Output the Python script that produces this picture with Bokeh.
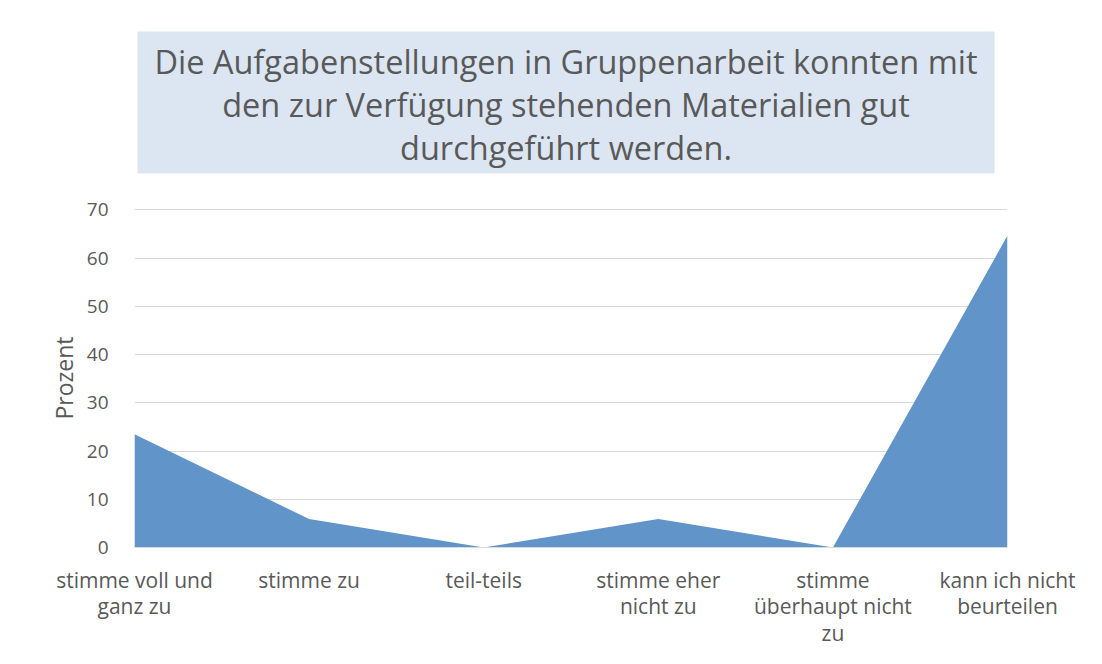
from bokeh.plotting import figure
from bokeh.models import Range1d, FixedTicker, Label, BoxAnnotation
from bokeh.layouts import column
from bokeh.embed import file_html
from bokeh.resources import INLINE

categories = ["stimme voll und\nganz zu", "stimme zu", "teil-teils",
              "stimme eher\nnicht zu", "stimme\nüberhaupt nicht\nzu",
              "kann ich nicht\nbeurteilen"]
values = [23.5, 5.9, 0.0, 5.9, 0.0, 64.7]
y_ticks = [0, 10, 20, 30, 40, 50, 60, 70]
title_text = ("Die Aufgabenstellungen in Gruppenarbeit konnten mit\n"
              "den zur Verfügung stehenden Materialien gut\n"
              "durchgeführt werden.")
y_label = "Prozent"

FONT = "Open Sans"
TXT = "#595959"
W = 1102
TH = 190          # height of the title strip
MH = 664 - TH     # height of the chart
FL, FR = 134, 1007  # frame edges in page pixels (shared by both figures)

# ---------------- title strip ----------------
t = figure(width=W, height=TH, output_backend="svg", toolbar_location=None,
           x_range=Range1d(FL, FR), y_range=Range1d(0, TH),
           x_axis_type=None, y_axis_type=None,
           min_border_left=FL, min_border_right=W - FR,
           min_border_top=0, min_border_bottom=0)
t.outline_line_color = None
t.grid.visible = False
t.border_fill_color = "white"
t.add_layout(BoxAnnotation(left=137, right=994, bottom=TH - 173, top=TH - 31,
                           fill_color="#dce6f2", fill_alpha=1.0,
                           line_color=None))
t.add_layout(Label(x=(137 + 994) / 2, y=TH - 104, text=title_text,
                   text_align="center", text_baseline="middle",
                   text_font=FONT, text_font_size="32.5px", text_color=TXT,
                   text_line_height=0.955))

# ---------------- main chart ----------------
xs = list(range(len(categories)))

p = figure(width=W, height=MH, output_backend="svg", toolbar_location=None,
           x_range=Range1d(0, len(categories) - 1), y_range=Range1d(0, 70.3),
           min_border_left=FL, min_border_right=W - FR,
           min_border_top=208 - TH, min_border_bottom=117)
p.outline_line_color = None
p.background_fill_color = "white"
p.border_fill_color = "white"

p.varea(x=xs, y1=[0] * len(xs), y2=values, fill_color="#6194c8")

p.xaxis.ticker = FixedTicker(ticks=xs)
p.xaxis.major_label_overrides = {i: c for i, c in enumerate(categories)}
p.xaxis.axis_line_color = "#d9d9d9"
p.xaxis.major_tick_line_color = None
p.xaxis.minor_tick_line_color = None
p.xaxis.major_label_text_font = FONT
p.xaxis.major_label_text_font_size = "21px"
p.xaxis.major_label_text_color = TXT
p.xaxis.major_label_standoff = 12
p.xaxis.major_label_text_line_height = 0.95
p.xgrid.grid_line_color = None

p.yaxis.ticker = FixedTicker(ticks=y_ticks)
p.yaxis.axis_line_color = None
p.yaxis.major_tick_line_color = None
p.yaxis.minor_tick_line_color = None
p.yaxis.major_label_text_font = FONT
p.yaxis.major_label_text_font_size = "19px"
p.yaxis.major_label_text_color = TXT
p.yaxis.major_label_standoff = 20
p.yaxis.axis_label = y_label
p.yaxis.axis_label_text_font = FONT
p.yaxis.axis_label_text_font_size = "23px"
p.yaxis.axis_label_text_font_style = "normal"
p.yaxis.axis_label_text_color = TXT
p.yaxis.axis_label_standoff = 4
p.ygrid.grid_line_color = "#d9d9d9"
p.ygrid.grid_line_width = 1

layout = column(t, p, spacing=0)
open("out.html", "w").write(file_html(layout, INLINE))
